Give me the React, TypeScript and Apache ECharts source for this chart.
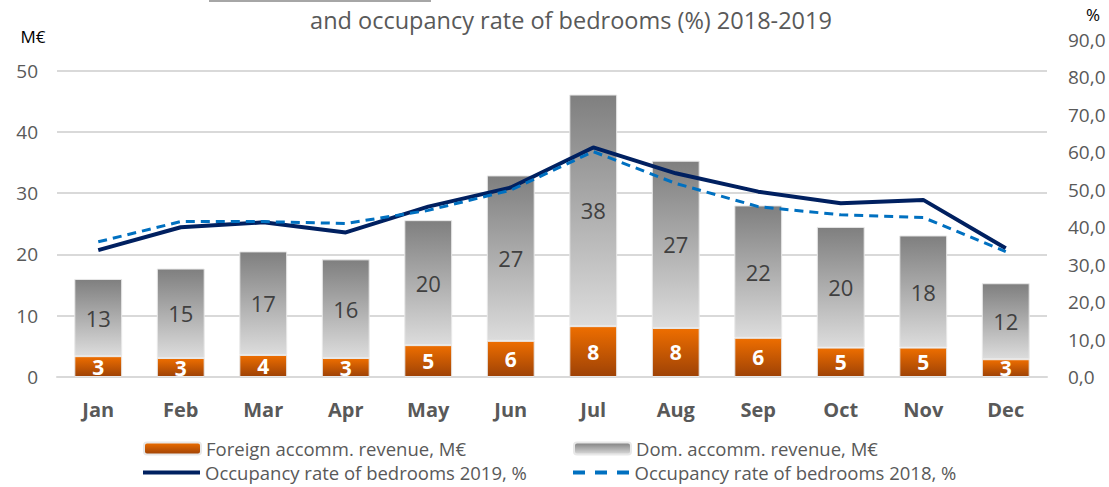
import React, { useEffect, useRef } from 'react';
import * as echarts from 'echarts';

const months = ['Jan', 'Feb', 'Mar', 'Apr', 'May', 'Jun', 'Jul', 'Aug', 'Sep', 'Oct', 'Nov', 'Dec'];
const foreignRevenue = [3.4, 3.1, 3.6, 3.1, 5.2, 5.9, 8.3, 8.0, 6.4, 4.8, 4.8, 2.9];
const domesticRevenue = [12.6, 14.6, 16.9, 16.1, 20.4, 27.0, 37.8, 27.3, 21.6, 19.7, 18.3, 12.4];
const occupancy2019 = [33.9, 40.0, 41.3, 38.6, 45.5, 50.6, 61.3, 54.4, 49.5, 46.4, 47.3, 34.4];
const occupancy2018 = [36.1, 41.5, 41.5, 41.0, 44.5, 49.9, 60.2, 51.7, 45.5, 43.3, 42.6, 33.5];

const seriesNames = [
  'Foreign accomm. revenue, M€',
  'Dom. accomm. revenue, M€',
  'Occupancy rate of bedrooms 2019, %',
  'Occupancy rate of bedrooms 2018, %',
];
const titleText = 'and occupancy rate of bedrooms (%) 2018-2019';
const leftAxisName = 'M€';
const rightAxisName = '%';

const FONT = "'Open Sans', 'Noto Sans', sans-serif";
const GREY = '#595959';

const SOLID_ICON = 'path://M0,0h58v4h-58z';
const DASH_ICON = 'path://M0,0h12v4h-12zM22,0h12v4h-12zM44,0h12v4h-12z';

export default function App() {
  const ref = useRef<HTMLDivElement>(null);
  useEffect(() => {
    if (!ref.current) return;
    const chart = echarts.init(ref.current, null, { renderer: 'svg' });
    const legendBase = {
      itemWidth: 57,
      itemHeight: 12,
      itemGap: 5,
      padding: 0,
      textStyle: { fontFamily: FONT, fontSize: 18.5, color: GREY },
      selectedMode: false,
    };
    chart.setOption({
      animation: false,
      backgroundColor: '#ffffff',
      textStyle: { fontFamily: FONT },
      grid: { left: 57, right: 62, top: 40, bottom: 110 },
      graphic: [
        { type: 'rect', shape: { x: 209, y: 0, width: 222, height: 2 }, style: { fill: '#A6A6A6' } },
        {
          type: 'text', x: 571, y: 20,
          style: { text: titleText, fontFamily: FONT, fontSize: 23.5, fill: GREY, align: 'center', verticalAlign: 'middle' },
        },
        {
          type: 'text', x: 33, y: 36,
          style: { text: leftAxisName, fontFamily: FONT, fontSize: 17, fill: '#000000', align: 'center', verticalAlign: 'middle' },
        },
        {
          type: 'text', x: 1093, y: 14,
          style: { text: rightAxisName, fontFamily: FONT, fontSize: 17, fill: '#000000', align: 'center', verticalAlign: 'middle' },
        },
      ],
      legend: [
        { ...legendBase, left: 143, top: 439, data: [seriesNames[0]] },
        { ...legendBase, left: 573, top: 439, data: [seriesNames[1]] },
        { ...legendBase, left: 143, top: 463, itemHeight: 4, data: [{ name: seriesNames[2], icon: SOLID_ICON }] },
        { ...legendBase, left: 573, top: 463, itemHeight: 4, data: [{ name: seriesNames[3], icon: DASH_ICON }] },
      ],
      xAxis: {
        type: 'category',
        data: months,
        axisLine: { lineStyle: { color: '#D9D9D9', width: 2 } },
        axisTick: { show: false },
        axisLabel: { fontFamily: FONT, fontSize: 20, fontWeight: 'bold', color: GREY, margin: 22 },
      },
      yAxis: [
        {
          type: 'value', min: 0, max: 55, interval: 10,
          axisLine: { show: false }, axisTick: { show: false },
          axisLabel: {
            fontFamily: FONT, fontSize: 19, color: GREY, margin: 19, showMaxLabel: false,
            formatter: (v: number) => (v % 10 === 0 ? String(v) : ''),
          },
          splitLine: { lineStyle: { color: '#D9D9D9', width: 2 }, showMaxLine: false },
        },
        {
          type: 'value', min: 0, max: 90, interval: 10,
          axisLine: { show: false }, axisTick: { show: false },
          axisLabel: {
            fontFamily: FONT, fontSize: 19, color: GREY, margin: 21,
            formatter: (v: number) => v.toFixed(1).replace('.', ','),
          },
          splitLine: { show: false },
        },
      ],
      series: [
        {
          name: seriesNames[0], type: 'bar', stack: 'rev', yAxisIndex: 0, data: foreignRevenue,
          barCategoryGap: '42%',
          itemStyle: {
            color: new echarts.graphic.LinearGradient(0, 0, 0, 1, [
              { offset: 0, color: '#EE6E00' },
              { offset: 1, color: '#9E4206' },
            ]),
            borderColor: '#E8E8E8', borderWidth: 1,
          },
          label: {
            show: true, position: 'inside', fontFamily: FONT, fontSize: 21, fontWeight: 'bold', color: '#ffffff',
            formatter: (p: any) => String(Math.round(p.value)),
          },
        },
        {
          name: seriesNames[1], type: 'bar', stack: 'rev', yAxisIndex: 0, data: domesticRevenue,
          barCategoryGap: '42%',
          itemStyle: {
            color: new echarts.graphic.LinearGradient(0, 0, 0, 1, [
              { offset: 0, color: '#7F7F7F' },
              { offset: 1, color: '#DCDCDC' },
            ]),
            borderColor: '#E8E8E8', borderWidth: 1,
          },
          label: {
            show: true, position: 'inside', fontFamily: FONT, fontSize: 22, color: '#404040',
            formatter: (p: any) => String(Math.round(p.value)),
          },
        },
        {
          name: seriesNames[2], type: 'line', yAxisIndex: 1, data: occupancy2019,
          symbol: 'none', lineStyle: { color: '#002060', width: 4 }, itemStyle: { color: '#002060' },
        },
        {
          name: seriesNames[3], type: 'line', yAxisIndex: 1, data: occupancy2018,
          symbol: 'none', lineStyle: { color: '#0070C0', width: 3, type: [9, 6] }, itemStyle: { color: '#0070C0' },
        },
      ],
    });
    return () => chart.dispose();
  }, []);
  return (
    <div
      ref={ref}
      style={{ position: 'fixed', left: 0, top: 0, width: 1109, height: 487, background: '#fff' }}
    />
  );
}
